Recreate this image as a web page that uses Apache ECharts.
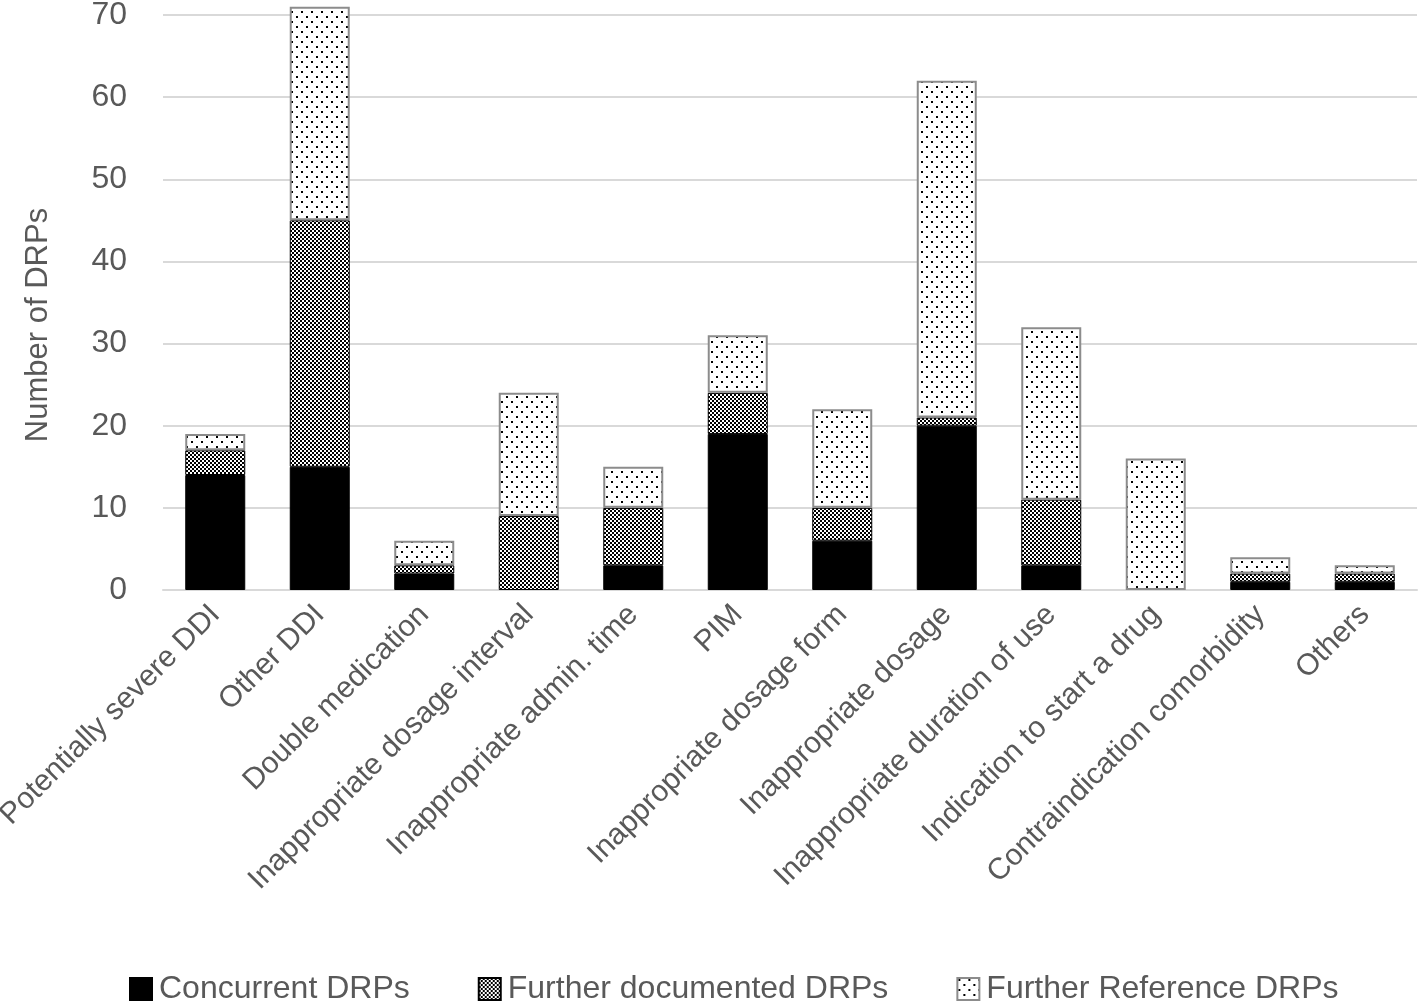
<!DOCTYPE html>
<html>
<head>
<meta charset="utf-8">
<script src="https://cdn.jsdelivr.net/npm/echarts@6/dist/echarts.min.js"></script>
<style>
html,body{margin:0;padding:0;background:#fff;}
#chart{width:1418px;height:1004px;}
</style>
</head>
<body>
<div id="chart"></div>
<script>
var categories = ["Potentially severe DDI","Other DDI","Double medication","Inappropriate dosage interval","Inappropriate admin. time","PIM","Inappropriate dosage form","Inappropriate dosage","Inappropriate duration of use","Indication to start a drug","Contraindication comorbidity","Others"];
var concurrent = [14,15,2,0,3,19,6,20,3,0,1,1];
var furtherDocumented = [3,30,1,9,7,5,4,1,8,0,1,1];
var furtherReference = [2,26,3,15,5,7,12,41,21,16,2,1];
var yTicks = [0,10,20,30,40,50,60,70];
var yAxisTitle = 'Number of DRPs';

function nz(arr){ return arr.map(function(v){ return v === 0 ? '-' : v; }); }
function checker(){
  var c=document.createElement('canvas');c.width=4;c.height=4;
  var g=c.getContext('2d');g.fillStyle='#fff';g.fillRect(0,0,4,4);
  g.fillStyle='#000';g.fillRect(0,0,2,2);g.fillRect(2,2,2,2);
  return c;
}
function dots(){
  var c=document.createElement('canvas');c.width=10;c.height=10;
  var g=c.getContext('2d');g.fillStyle='#fff';g.fillRect(0,0,10,10);
  g.fillStyle='#000';g.fillRect(1,1,2,2);g.fillRect(6,6,2,2);
  return c;
}
var FONT='"Liberation Sans",Arial,sans-serif';
var chart=echarts.init(document.getElementById('chart'));
chart.setOption({
  animation:false,
  backgroundColor:'#fff',
  textStyle:{fontFamily:FONT},
  grid:{left:163,right:1,top:15,bottom:414,containLabel:false,outerBoundsMode:'none'},
  legend:{
    bottom:-6,left:124,itemWidth:22,itemHeight:22,itemGap:68,icon:'rect',
    textStyle:{fontFamily:FONT,fontSize:32,color:'#595959',padding:[0,0,0,2]},
    data:['Concurrent DRPs','Further documented DRPs','Further Reference DRPs']
  },
  graphic:[{
    type:'text',x:38,y:325,rotation:Math.PI/2,
    style:{text:yAxisTitle,font:'31px '+FONT,fill:'#595959',align:'center',verticalAlign:'middle'}
  }],
  xAxis:{
    type:'category',data:categories,
    axisLine:{lineStyle:{color:'#d9d9d9',width:2}},
    axisTick:{show:false},
    axisLabel:{rotate:45,interval:0,margin:20,fontFamily:FONT,fontSize:30,color:'#595959'}
  },
  yAxis:{
    type:'value',min:yTicks[0],max:yTicks[yTicks.length-1],interval:10,
    axisLine:{show:false},axisTick:{show:false},
    axisLabel:{margin:36,fontFamily:FONT,fontSize:32,color:'#595959'},
    splitLine:{lineStyle:{color:'#d9d9d9',width:2}}
  },
  series:[
    {name:'Concurrent DRPs',type:'bar',stack:'s',barWidth:60,data:nz(concurrent),clip:false,
     itemStyle:{color:'#000',borderColor:'#000',borderWidth:1}},
    {name:'Further documented DRPs',type:'bar',stack:'s',data:nz(furtherDocumented),clip:false,
     itemStyle:{color:{image:checker(),repeat:'repeat'},borderColor:'#000',borderWidth:1}},
    {name:'Further Reference DRPs',type:'bar',stack:'s',data:nz(furtherReference),clip:false,
     itemStyle:{color:{image:dots(),repeat:'repeat'},borderColor:'#8c8c8c',borderWidth:2}}
  ]
});
</script>
</body>
</html>
